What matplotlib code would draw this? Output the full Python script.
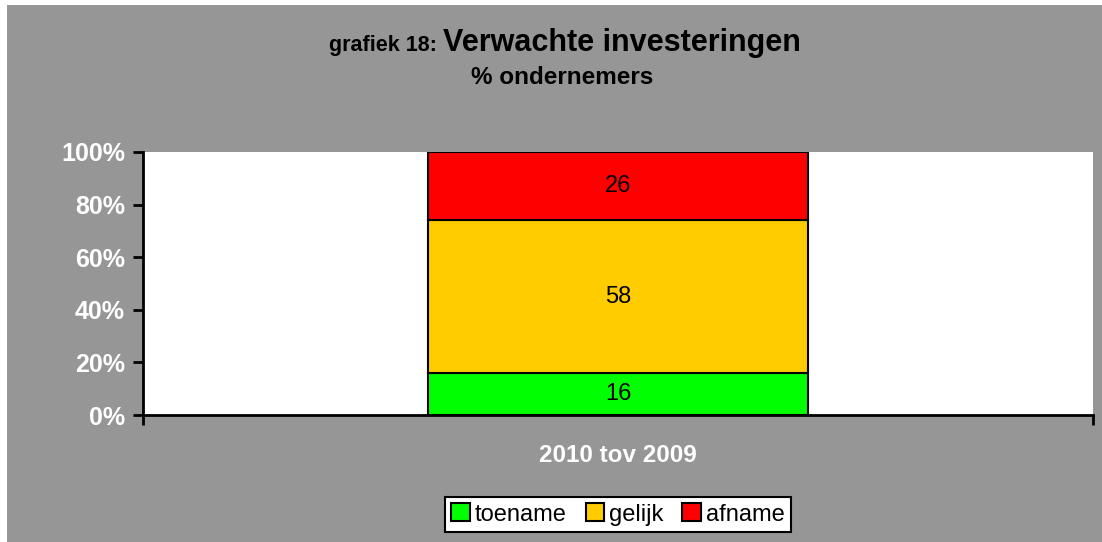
import matplotlib.pyplot as plt
from matplotlib.patches import Rectangle
from matplotlib.ticker import PercentFormatter

plt.rcParams['font.family'] = ['Liberation Sans', 'DejaVu Sans']

categories = ['2010 tov 2009']
series = ['toename', 'gelijk', 'afname']
toename = [16]
gelijk = [58]
afname = [26]
colors = ['#00ff00', '#ffcc00', '#ff0000']

bg = '#969696'
W, H = 1102, 542
fig = plt.figure(figsize=(11.02, 5.42), dpi=100, facecolor='white')
# gray chart area, with a thin white margin at the top left like the original
fig.patches.append(Rectangle((7 / W, -0.02), 1.0, 1.02 - 5 / H,
                             transform=fig.transFigure, facecolor=bg,
                             edgecolor='none', zorder=-10))

ax = fig.add_axes([0.1298, 0.2343, 0.862, 0.4853])
ax.set_facecolor('white')

x = [0.5]
bottom = [0]
for name, vals, c in zip(series, [toename, gelijk, afname], colors):
    frac = [v / 100 for v in vals]
    ax.bar(x, frac, width=0.4, bottom=bottom, color=c, edgecolor='black',
           linewidth=1.5, label=name)
    for xi, b, f, v in zip(x, bottom, frac, vals):
        ax.text(xi, b + f / 2, str(v), ha='center', va='center', fontsize=17)
    bottom = [b + f for b, f in zip(bottom, frac)]

ax.set_xlim(0, 1)
ax.set_ylim(0, 1)
ax.set_yticks([0, 0.2, 0.4, 0.6, 0.8, 1.0])
ax.yaxis.set_major_formatter(PercentFormatter(1, decimals=0))
ax.set_xticks([0, 1])
ax.set_xticklabels(['', ''])
ax.set_xticks(x, minor=True)
ax.set_xticklabels(categories, minor=True)
ax.tick_params(axis='x', which='minor', length=0, pad=21, labelsize=17.5,
               labelcolor='white')
ax.tick_params(axis='x', which='major', direction='out', length=7, width=2)
ax.tick_params(axis='y', direction='out', length=7, width=2, labelsize=18,
               labelcolor='white', pad=6)
for lab in ax.get_yticklabels() + ax.get_xticklabels(minor=True):
    lab.set_fontweight('bold')
for s in ['top', 'right']:
    ax.spines[s].set_visible(False)
for s in ['left', 'bottom']:
    ax.spines[s].set_linewidth(2)

fig.text(437 / W, 1 - 51 / H, 'grafiek 18:', ha='right', va='baseline',
         fontsize=15.5, fontweight='bold')
fig.text(443 / W, 1 - 51 / H, 'Verwachte investeringen', ha='left',
         va='baseline', fontsize=22, fontweight='bold')
fig.text(562 / W, 1 - 84 / H, '% ondernemers', ha='center',
         va='baseline', fontsize=17.5, fontweight='bold')

leg = fig.legend(loc='center', bbox_to_anchor=(618 / W, 1 - 514.5 / H),
                 ncol=3, fontsize=17, frameon=True, fancybox=False,
                 edgecolor='black', framealpha=1, handlelength=0.8,
                 handleheight=0.8, handletextpad=0.2, columnspacing=0.8,
                 borderpad=0.25, borderaxespad=0)
leg.get_frame().set_linewidth(1.5)

fig.savefig('out.png', dpi=100, facecolor='white')
